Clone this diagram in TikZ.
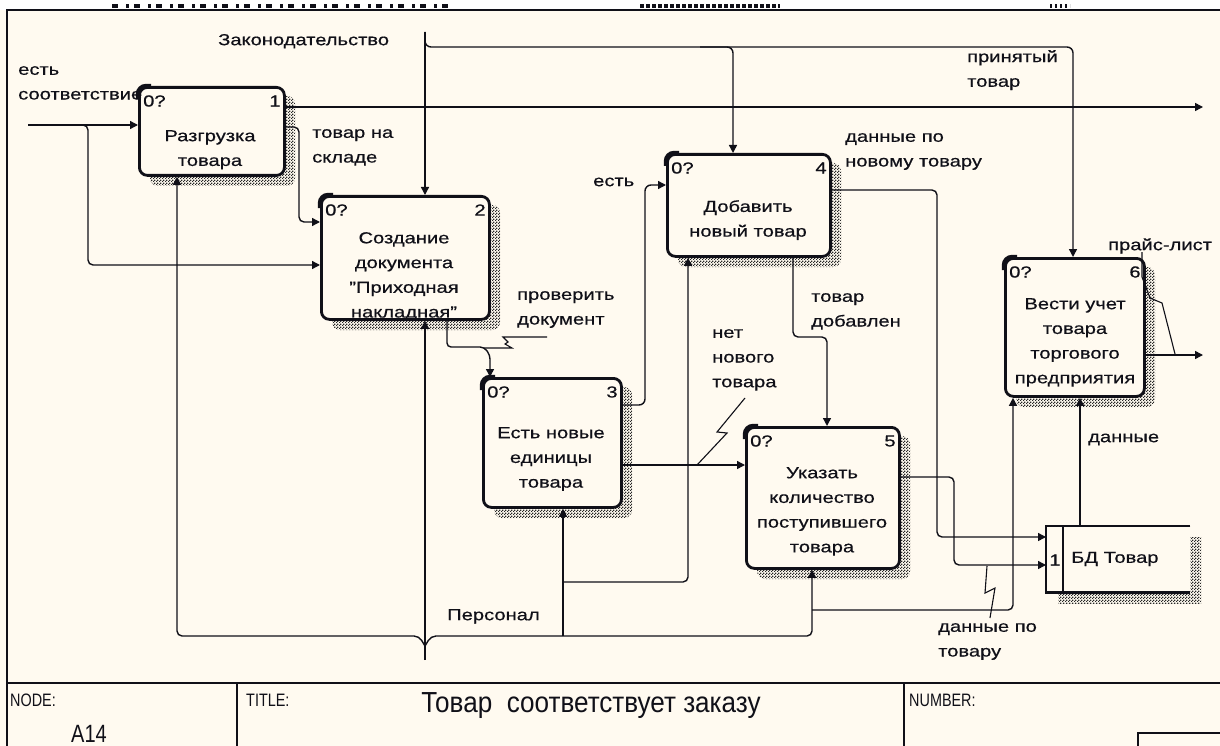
\documentclass[tikz,border=0pt]{standalone}
\usepackage{fontspec}
\setmainfont{Liberation Sans}[FakeStretch=1.26, FakeBold=0.5]
\newfontfamily\blockfont{Liberation Sans}[FakeStretch=0.8]
\newfontfamily\titlefont{Liberation Sans}[FakeStretch=0.9]
\usetikzlibrary{arrows.meta,patterns,calc}
\definecolor{paper}{RGB}{255,250,240}
\definecolor{ink}{RGB}{16,16,24}

% fine checker used for the drop shadows
\pgfdeclarepatternformonly{idefdots}{\pgfpointorigin}{\pgfqpoint{3pt}{3pt}}{\pgfqpoint{3pt}{3pt}}{%
  \pgfpathrectangle{\pgfpointorigin}{\pgfqpoint{1.5pt}{1.5pt}}%
  \pgfpathrectangle{\pgfqpoint{1.5pt}{1.5pt}}{\pgfqpoint{1.5pt}{1.5pt}}%
  \pgfusepath{fill}}

\tikzset{
  conn/.style={draw=ink, line width=1.4},
  arrow/.style={conn, -{Triangle[length=8pt,width=8pt]}},
  squig/.style={draw=ink, line width=1.1},
  actbox/.style={draw=ink, fill=paper, line width=2.8, rounded corners=8, inner sep=0, anchor=north west},
  shade/.style={pattern=idefdots, pattern color=black!85},
  lbl/.style={font=\fontsize{16}{24.7}\selectfont, text=ink, inner sep=0, align=left, anchor=north west,
              execute at begin node=\rule{0pt}{12pt}},
  boxtxt/.style={font=\fontsize{16}{24.7}\selectfont, text=ink, inner sep=0, align=center, anchor=north,
              execute at begin node=\rule{0pt}{12pt}},
  tag/.style={font=\fontsize{16}{18}\selectfont, text=ink, inner sep=0},
  blk/.style={font=\blockfont\fontsize{18}{20}\selectfont, text=ink, inner sep=0},
}

% activity box: name, x1, y1, x2, y2, number
\newcommand{\actbox}[6]{%
  \fill[shade, rounded corners=8] (#2+12,#3+10) rectangle (#4+12,#5+12);
  \node[actbox, minimum width=#4-#2, minimum height=#5-#3] (#1) at (#2,#3) {};
  \draw[ink, line width=4.4, rounded corners=8] ($(#1.north west)+(0,13)$) -- (#1.north west) -- ($(#1.north west)+(13,0)$);
  \node[tag, anchor=west] (#1-call) at ($(#1.north west)+(5,15)$) {0?};
  \node[tag, anchor=east] (#1-num) at ($(#1.north east)+(-5,15)$) {#6};
}

\begin{document}
\begin{tikzpicture}[x=1pt, y=-1pt]
\useasboundingbox (0,0) rectangle (1220,746);
\fill[paper] (0,0) rectangle (1220,746);
\fill[white] (0,0) rectangle (1220,10);
% clipped text of the sheet above
\draw[ink, line width=3.5, dash pattern=on 6pt off 8pt on 3pt off 5pt] (112,6) -- (455,6);
\draw[ink, line width=3.5, dash pattern=on 4pt off 2pt] (640,6) -- (780,6);
\draw[ink, line width=3.5, dash pattern=on 2pt off 3pt] (1050,6) -- (1070,6);
% sheet frame
\draw[ink, line width=2.2] (7,746) -- (7,10) -- (1220,10);

% activities
\actbox{b1}{138}{86}{283}{174}{1}
\actbox{b2}{320}{195}{488}{318}{2}
\actbox{b3}{482}{377}{620}{506}{3}
\actbox{b4}{666}{153}{829}{255}{4}
\actbox{b5}{745}{426}{898}{567}{5}
\actbox{b6}{1004}{257}{1143}{395}{6}

\node[boxtxt] (b1-t) at (210,130) {Разгрузка\\товара};
\node[boxtxt] (b2-t) at (404,232) {Создание\\документа\\"Приходная\\накладная"};
\node[boxtxt] (b3-t) at (551,427) {Есть новые\\единицы\\товара};
\node[boxtxt] (b4-t) at (748,200) {Добавить\\новый товар};
\node[boxtxt] (b5-t) at (822,467) {Указать\\количество\\поступившего\\товара};
\node[boxtxt] (b6-t) at (1075,298) {Вести учет\\товара\\торгового\\предприятия};

% data store
\fill[shade] (1058,537) rectangle (1201,603);
\node[anchor=north west, minimum width=144, minimum height=66, fill=paper, inner sep=0] (db) at (1046,526) {};
\draw[ink, line width=2.8] (db.north east) -- (db.north west) -- (db.south west) -- (db.south east);
\draw[ink, line width=2.8] ($(db.north west)+(17,0)$) -- ($(db.south west)+(17,0)$);
\node[tag] (db-num) at (1055,560) {1};
\node[tag, anchor=west] (db-t) at (1071,559) {БД Товар};

% inputs and outputs of box 1
\coordinate (in1) at (28,125);
\draw[arrow] (in1) -- (in1 -| b1.west);
\draw[arrow, rounded corners=5] (in1) -| (88,265) -- (b2.west |- 0,265);
\coordinate (out1) at (1203,107);
\draw[arrow] (b1.east |- 0,107) -- (out1);
\draw[arrow, rounded corners=5] (b1.east |- 0,127) -| (299,222) -- (b2.west |- 0,222);

% controls
\coordinate (law) at (425,32);
\draw[arrow] (law) -- (law |- b2.north);
\draw[arrow, rounded corners=6] (law) |- (1073,47) -- (b6.north -| 1073,0);
\draw[arrow, rounded corners=6] (700,47) -| (b4.north -| 733,0);

% mechanisms
\coordinate (pers) at (425,660);
\draw[arrow] (pers) -- (pers |- b2.south);
\draw[arrow, rounded corners=5] (425,646) -- (419,636) -| (b1.south -| 177,0);
\draw[arrow, rounded corners=5] (425,646) -- (431,636) -| (b5.south -| 812,0);
\draw[arrow] (563,636) -- (b3.south -| 563,0);
\draw[arrow, rounded corners=5] (563,582) -| (b4.south -| 688,0);
\draw[arrow, rounded corners=5] (812,610) -| (b6.south -| 1013,0);

% box 2 -> box 3
\draw[arrow, rounded corners=4] (b2.south -| 447,0) |- (484,347) -- (490,355) -- (b3.north -| 490,0);
\draw[squig] (547,337) -- (503,337) -- (508,342) -- (505,344) -- (512,348) -- (484,348);

% box 3 outputs
\draw[arrow, rounded corners=6] (b3.east |- 0,405) -| (645,185) -- (b4.west |- 0,185);
\draw[arrow] (b3.east |- 0,465) -- (b5.west |- 0,465);
\draw[squig] (745,398) -- (717,432) -- (727,433) -- (697,465);

% box 4 outputs
\draw[arrow, rounded corners=5] (b4.south -| 793,0) |- (827,337) -- (b5.north -| 827,0);
\draw[arrow, rounded corners=5] (b4.east |- 0,190) -| (937,537) -- (db.west |- 0,537);

% box 5 -> store
\draw[arrow, rounded corners=5] (b5.east |- 0,477) -| (954,565) -- (db.west |- 0,565);
\draw[squig] (987,566) -- (985,593) -- (995,588) -- (990,618);

% store -> box 6, box 6 output
\draw[arrow] (db.north -| 1080,0) -- (b6.south -| 1080,0);
\coordinate (out2) at (1203,355);
\draw[arrow] (b6.east |- 0,355) -- (out2);
\draw[squig] (1142,252) -- (1142,277) -- (1150,298) -- (1162,303) -- (1175,354);

% arrow labels
\node[lbl] (l-law) at (218,33) {Законодательство};
\node[lbl] (l-in) at (18,66) {есть\\соответствие};
\node[lbl] (l-stock) at (312,129) {товар на\\складе};
\node[lbl] (l-acc) at (967,50) {принятый\\товар};
\node[lbl] (l-newdata) at (845,133) {данные по\\новому товару};
\node[lbl] (l-yes) at (593,174) {есть};
\node[lbl] (l-check) at (517,291) {проверить\\документ};
\node[lbl] (l-no) at (712,329) {нет\\нового\\товара};
\node[lbl] (l-added) at (811,293) {товар\\добавлен};
\node[lbl] (l-price) at (1108,238) {прайс-лист};
\node[lbl] (l-data) at (1088,430) {данные};
\node[lbl] (l-goods) at (938,623) {данные по\\товару};
\node[lbl] (l-staff) at (447,608) {Персонал};

% title block
\draw[ink, line width=1.8] (7,683) -- (1220,683);
\draw[ink, line width=1.4] (237,683) -- (237,746);
\draw[ink, line width=1.4] (904,683) -- (904,746);
\draw[ink, line width=1.4] (1138,746) |- (1220,733);
\node[blk, anchor=west] (t-node) at (10,700) {NODE:};
\node[blk, anchor=west] (t-title) at (246,700) {TITLE:};
\node[blk, anchor=west] (t-num) at (909,700) {NUMBER:};
\node[inner sep=0, text=ink, font=\blockfont\fontsize{25}{27}\selectfont] (t-a14) at (89,734) {A14};
\node[inner sep=0, text=ink, font=\titlefont\fontsize{29}{31}\selectfont] (t-name) at (591,706) {Товар\ \ соответствует заказу};
\end{tikzpicture}
\end{document}
